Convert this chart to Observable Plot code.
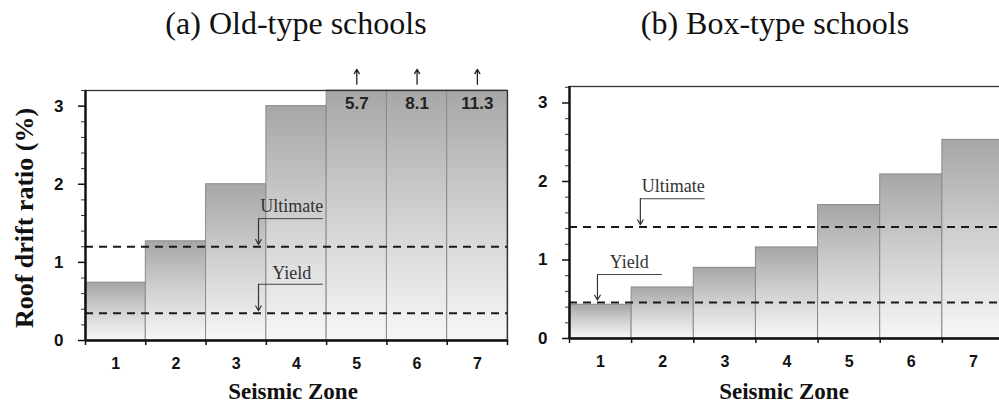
<!DOCTYPE html>
<html><head><meta charset="utf-8">
<script src="https://cdn.jsdelivr.net/npm/d3@7"></script>
<script src="https://cdn.jsdelivr.net/npm/@observablehq/plot@0.6"></script>
<style>
html,body{margin:0;padding:0;background:#fff;}
body{width:999px;height:404px;overflow:hidden;position:relative;}
.title{position:absolute;top:5px;font-family:"Liberation Serif","DejaVu Serif",serif;font-size:32px;color:#111;transform:translateX(-50%);white-space:nowrap;line-height:36px}
.xlab{position:absolute;top:379px;font-family:"Liberation Serif","DejaVu Serif",serif;font-weight:bold;font-size:23px;color:#111;transform:translateX(-50%);white-space:nowrap;line-height:26px}
.ylab{position:absolute;left:25px;top:218px;font-family:"Liberation Serif","DejaVu Serif",serif;font-weight:bold;font-size:26px;color:#111;transform:translate(-50%,-50%) rotate(-90deg);white-space:nowrap;line-height:30px}
#pa{position:absolute;left:0;top:60px}
#pb{position:absolute;left:505px;top:60px}
</style></head><body>
<div id="pa"></div>
<div id="pb"></div>
<div class="title" style="left:296px">(a) Old-type schools</div>
<div class="title" style="left:775px">(b) Box-type schools</div>
<div class="xlab" style="left:293px">Seismic Zone</div>
<div class="xlab" style="left:784px">Seismic Zone</div>
<div class="ylab">Roof drift ratio (%)</div>
<script>
// ---- data ----
const zones = [1, 2, 3, 4, 5, 6, 7];
const oldDrift = [0.74, 1.27, 2.0, 3.0, 5.7, 8.1, 11.3];
const boxDrift = [0.43, 0.65, 0.90, 1.16, 1.70, 2.09, 2.53];
const oldUltimate = 1.2, oldYield = 0.35;
const boxUltimate = 1.42, boxYield = 0.46;
const yTicks = [0, 1, 2, 3];
const yMinorTicks = [0.2,0.4,0.6,0.8,1.2,1.4,1.6,1.8,2.2,2.4,2.6,2.8,3.2];
const limitLabels = ["Ultimate", "Yield"];

const sans = "'Liberation Sans', Arial, sans-serif";
const serif = "'Liberation Serif', 'DejaVu Serif', serif";

function gradDefs(id) {
  return () => {
    const defs = d3.create("svg:defs");
    const g = defs.append("linearGradient").attr("id", id)
      .attr("x1", 0).attr("y1", 0).attr("x2", 0).attr("y2", 1);
    g.append("stop").attr("offset", "0%").attr("stop-color", "#a6a6a6");
    g.append("stop").attr("offset", "45%").attr("stop-color", "#cdcdcd");
    g.append("stop").attr("offset", "100%").attr("stop-color", "#f7f7f7");
    return defs.node();
  };
}

function panel(o) {
  const data = zones.map((z, i) => ({zone: z, value: o.values[i]}));
  const over = data.filter(d => d.value > o.yMax);
  const boundaries = d3.range(0.5, 7.51, 1);
  const marks = [
    gradDefs(o.gradId),
    Plot.rectY(data, {x1: d => d.zone - 0.5, x2: d => d.zone + 0.5, y1: 0,
      y2: d => Math.min(d.value, o.yMax), fill: `url(#${o.gradId})`, stroke: "#8a8a8a", strokeWidth: 1}),
    Plot.frame({stroke: "#333", strokeWidth: 1.3}),
    Plot.ruleY([o.ultimate, o.yieldV], {stroke: "#1a1a1a", strokeWidth: 2, strokeDasharray: "8,6"}),
    Plot.text(over, {x: "zone", y: o.yMax, dy: 13, text: d => d.value.toFixed(1),
      fontFamily: sans, fontWeight: "bold", fontSize: 17, fill: "#222"}),
    Plot.arrow(over, {x: "zone", y1: o.yMax + 0.08, y2: o.yMax + 0.27, stroke: "#222",
      strokeWidth: 1.3, headLength: 6}),
  ];
  // annotations (leader lines + labels)
  o.ann.forEach((a, i) => {
    marks.push(Plot.line([[a.ax, a.ly], [a.lx2, a.ly]], {stroke: "#444", strokeWidth: 1}));
    marks.push(Plot.arrow([0], {x1: a.ax, y1: a.ly, x2: a.ax, y2: a.ay, stroke: "#333", strokeWidth: 1.2, headLength: 7}));
    marks.push(Plot.text([limitLabels[i]], {x: a.tx, y: a.ty, text: d => d, fontFamily: serif, fontSize: 18, fill: "#333"}));
  });
  marks.push(
    Plot.axisY({ticks: yMinorTicks, tickSize: 4, tickFormat: () => "", label: null, stroke: "#333"}),
    Plot.axisY({ticks: yTicks, tickSize: 7, tickPadding: 15, tickFormat: d3.format("d"), label: null, fontFamily: sans, fontWeight: "bold", fontSize: 17, fill: "#111", stroke: "#111", strokeWidth: 1.5}),
    Plot.axisX({ticks: boundaries, tickSize: 5, tickFormat: () => "", label: null, stroke: "#111", strokeWidth: 1.5}),
    Plot.axisX({ticks: zones, tickSize: 0, tickPadding: 17, tickFormat: d3.format("d"), label: null, fontFamily: sans, fontWeight: "bold", fontSize: 16, fill: "#111"}),
    Plot.ruleX([0.5], {stroke: "#111", strokeWidth: 2.4}),
    Plot.ruleY([0], {stroke: "#111", strokeWidth: 2.4})
  );
  return Plot.plot({
    width: o.width, height: 344,
    marginLeft: o.marginLeft, marginRight: o.marginRight, marginTop: o.marginTop, marginBottom: o.marginBottom,
    x: {domain: [0.5, 7.5]},
    y: {domain: [0, o.yMax]},
    style: {background: "transparent", maxWidth: "none", overflow: "visible"},
    marks
  });
}

document.getElementById("pa").append(panel({
  values: oldDrift, ultimate: oldUltimate, yieldV: oldYield, yMax: 3.2, gradId: "gA",
  width: 510, marginLeft: 85, marginRight: 3, marginTop: 30, marginBottom: 64,
  ann: [
    {ax: 3.37, ly: 1.56, lx2: 4.43, ay: 1.23, tx: 3.92, ty: 1.72},
    {ax: 3.37, ly: 0.72, lx2: 4.43, ay: 0.38, tx: 3.92, ty: 0.86}
  ]
}));
document.getElementById("pb").append(panel({
  values: boxDrift, ultimate: boxUltimate, yieldV: boxYield, yMax: 3.21, gradId: "gB",
  width: 500, marginLeft: 64, marginRight: 1, marginTop: 26, marginBottom: 66,
  ann: [
    {ax: 1.64, ly: 1.78, lx2: 2.67, ay: 1.45, tx: 2.17, ty: 1.94},
    {ax: 0.95, ly: 0.815, lx2: 1.98, ay: 0.49, tx: 1.46, ty: 0.97}
  ]
}));
</script>
</body></html>
